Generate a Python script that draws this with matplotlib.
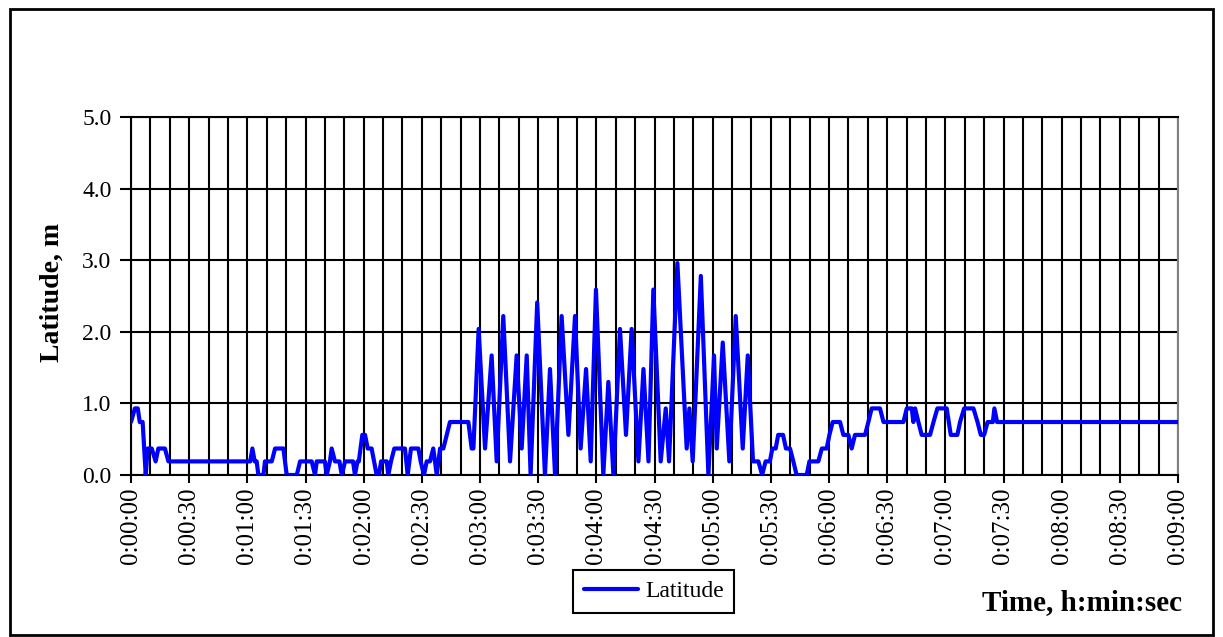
import matplotlib
matplotlib.use("Agg")
import matplotlib.pyplot as plt
from matplotlib.patches import Rectangle
import numpy as np

# ---- data (time in seconds, latitude deviation in m) ----
time_s = [0, 2, 3.5, 4.5, 6, 7.6, 8.6, 10.7, 12.7, 14.1, 17.5, 19.3,
          61.5, 62.6, 63.8, 64.8, 65.7, 68.3, 69.1, 72.6, 74.3, 78.6, 80.3, 85.5,
          87.2, 93.2, 94.9, 95.8, 100, 100.9, 102.6, 103.5, 105.2, 107.5, 108.7,
          110.4, 114.5, 115.5, 116.8, 117.5, 119.3, 120.7, 122.1, 124.1, 126.7,
          127.9, 129, 131.9, 132.7, 134.1, 135.8, 141.3, 142.7, 144.4, 148.2,
          149.4, 151.1, 152.5, 154.2, 155.9, 157.7, 159.4, 161.1, 164.5, 174,
          175.7, 176.6,
          179.3, 182.6, 186, 188.6, 192, 195.5, 198.9, 201.5, 204.1, 206.1,
          209.5, 213.5, 216.1, 218.7, 222.1, 225.6, 229, 231.9, 234.7, 237.1,
          239.8, 243.6, 246.2, 248.8, 252.2, 255.3, 258.2, 261.7, 264.3, 266.9,
          269.4, 273.2, 275.8, 277.5, 281.8, 286.6, 288, 289.7, 293.9, 297.8,
          300.7, 302.1, 305.2, 308.6, 311.9, 315.5, 318.1, 320.8, 323.6, 325.5,
          327.3, 329.5, 330.8, 332.5, 333.8, 336.3, 337.8, 339.9, 341.6, 343.3,
          348.5, 349.9, 354.5, 356.3, 358.8, 360.2, 361.9, 365.7, 367.4, 370,
          371.7, 373.4, 378.6, 380.3, 382, 386.3, 388.1, 398.4, 400.1, 402.7,
          403.5, 404.4, 406.1, 407.8, 412.1, 413.9, 415.9, 420.7, 422.8, 426.2,
          427.6, 429.7, 434.5, 436.6, 438.3, 440, 441.8, 444.5, 445.3, 446.7,
          540]
latitude_m = [0.74, 0.93, 0.93, 0.74, 0.74, 0.0, 0.37, 0.37, 0.19, 0.37, 0.37, 0.19,
              0.19, 0.37, 0.19, 0.19, 0.0, 0.0, 0.19, 0.19, 0.37, 0.37, 0.0, 0.0,
              0.19, 0.19, 0.0, 0.19, 0.19, 0.0, 0.19, 0.37, 0.19, 0.19, 0.0,
              0.19, 0.19, 0.0, 0.19, 0.19, 0.56, 0.56, 0.37, 0.37, 0.0,
              0.0, 0.19, 0.19, 0.0, 0.19, 0.37, 0.37, 0.0, 0.37, 0.37,
              0.19, 0.0, 0.19, 0.19, 0.37, 0.0, 0.37, 0.37, 0.74, 0.74,
              0.37, 0.37,
              2.04, 0.37, 1.67, 0.19, 2.22, 0.19, 1.67, 0.37, 1.67, 0.0,
              2.41, 0.0, 1.48, 0.0, 2.22, 0.56, 2.22, 0.37, 1.48, 0.19,
              2.59, 0.0, 1.30, 0.0, 2.04, 0.56, 2.04, 0.19, 1.48, 0.19,
              2.59, 0.19, 0.93, 0.19, 2.96, 0.37, 0.93, 0.19, 2.78, 0.0,
              1.67, 0.37, 1.85, 0.19, 2.22, 0.37, 1.67, 0.19, 0.19, 0.0,
              0.19, 0.19, 0.37, 0.37, 0.56, 0.56, 0.37, 0.37, 0.19, 0.0,
              0.0, 0.19, 0.19, 0.37, 0.37, 0.56, 0.74, 0.74, 0.56, 0.56,
              0.37, 0.56, 0.56, 0.74, 0.93, 0.93, 0.74, 0.74, 0.93, 0.93,
              0.74, 0.93, 0.74, 0.56, 0.56, 0.74, 0.93, 0.93, 0.56, 0.56,
              0.74, 0.93, 0.93, 0.74, 0.56, 0.56, 0.74, 0.74, 0.93, 0.74,
              0.74]

series_name = "Latitude"
y_ticks = [0.0, 1.0, 2.0, 3.0, 4.0, 5.0]
x_tick_seconds = list(range(0, 541, 30))
x_tick_labels = ["0:%02d:%02d" % (s // 60, s % 60) for s in x_tick_seconds]
x_grid_seconds = list(range(0, 541, 10))

serif = ["Liberation Serif", "DejaVu Serif"]
plt.rcParams["font.family"] = serif

W, H = 1223, 637
fig = plt.figure(figsize=(W / 100, H / 100), dpi=100)
fig.patch.set_facecolor("white")

ax = fig.add_axes([131 / W, 1 - 475 / H, (1178 - 131) / W, (475 - 117) / H])

# grid
for s in x_grid_seconds:
    ax.axvline(s, color="black", lw=1.5, zorder=1)
for v in y_ticks:
    ax.axhline(v, color="black", lw=1.5, zorder=1)

ax.plot(time_s, latitude_m, color="#0000FF", lw=3.0, solid_joinstyle="round",
        solid_capstyle="round", label=series_name, zorder=3)

ax.set_xlim(0, 540)
ax.set_ylim(0, 5)
ax.set_yticks(y_ticks)
ax.set_yticklabels(["%.1f" % v for v in y_ticks], fontsize=17)
ax.set_xticks(x_tick_seconds)
ax.set_xticklabels(x_tick_labels, rotation=90, fontsize=18)
ax.tick_params(axis="y", direction="out", length=8, width=1.5, pad=6)
ax.tick_params(axis="x", direction="out", length=6, width=1.5, pad=3)

for side in ["left", "bottom", "top"]:
    ax.spines[side].set_color("black")
    ax.spines[side].set_linewidth(1.5)
ax.spines["right"].set_color("#808080")
ax.spines["right"].set_linewidth(1.5)

fig.text(52 / W, 1 - 292 / H, "Latitude, m", rotation=90, ha="center", va="center",
         fontsize=20, fontweight="bold")
fig.text(1182 / W, 1 - 603 / H, "Time, h:min:sec", ha="right", va="center",
         fontsize=21, fontweight="bold")

leg = fig.legend(loc="upper left", bbox_to_anchor=(573 / W, 1 - 570 / H),
                 frameon=True, fancybox=False, edgecolor="black", framealpha=1,
                 fontsize=17, handlelength=2.3, handletextpad=0.3,
                 borderpad=0.45, borderaxespad=0)
leg.get_frame().set_linewidth(1.5)

# outer chart border
fig.patches.append(Rectangle((10 / W, 2 / H), (1213 - 10) / W, (H - 9 - 2) / H,
                             transform=fig.transFigure, fill=False,
                             edgecolor="black", lw=2))

fig.savefig("out.png", dpi=100)
